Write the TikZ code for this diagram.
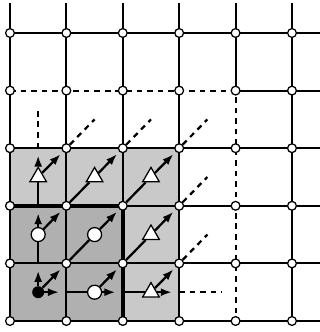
\documentclass[tikz,border=0pt]{standalone}
\usetikzlibrary{shapes.geometric,arrows.meta}
\begin{document}
\begin{tikzpicture}[x=1.41cm,y=1.44cm,>={Latex[length=2.8mm,width=2mm]}]
    \tikzset{
      gridline/.style={line width=1.4pt},
      dashline/.style={line width=1.4pt, dash pattern=on 4pt off 3.5pt},
      knot/.style={circle, draw, fill=white, line width=0.9pt, inner sep=0pt, minimum size=2.2mm},
      cell/.style={circle, draw, fill=white, line width=0.9pt, inner sep=0pt, minimum size=3.5mm},
      root/.style={circle, fill=black, inner sep=0pt, minimum size=3mm},
      tri/.style={regular polygon, regular polygon sides=3, draw, fill=white, line width=0.9pt, inner sep=0pt, minimum size=4.8mm},
      flowout/.style={line width=1.6pt, ->, shorten >=#1},
      flowout/.default=0.8mm,
      link/.style={line width=1.6pt},
      trail/.style={line width=1.6pt, dash pattern=on 4pt off 3.5pt}
    }
    \useasboundingbox (-0.177,-0.191) rectangle (5.496,5.573);
    % shaded block
    \fill[gray!42] (0,0) rectangle (3,3);
    \fill[gray!62] (0,0) rectangle (2,2);
    % lattice
    \foreach \k in {0,1,2,3,5} {
      \draw[gridline] (0,\k) -- (5.5,\k);
      \draw[gridline] (\k,0) -- (\k,5.52);
    }
    \draw[dashline] (0,4) -- (4,4) -- (4,0);
    \draw[gridline] (4,4) -- (5.5,4);
    \draw[gridline] (4,4) -- (4,5.52);
    \draw[line width=2.8pt] (0,2) -- (2,2) -- (2,0);
    \foreach \c in {0,...,5}
      \foreach \r in {0,...,5}
        \node[knot] (g-\c-\r) at (\c,\r) {};
    % cell centres
    \node[root] (c00) at (0.5,0.5) {};
    \node[cell] (c01) at (0.5,1.5) {};
    \node[cell] (c10) at (1.5,0.5) {};
    \node[cell] (c11) at (1.5,1.5) {};
    \node[tri] (c02) at (0.5,2.5) {};
    \node[tri] (c12) at (1.5,2.5) {};
    \node[tri] (c22) at (2.5,2.5) {};
    \node[tri] (c21) at (2.5,1.5) {};
    \node[tri] (c20) at (2.5,0.5) {};
    % crossings and loose ends
    \coordinate (v1) at (0.5,1);
    \coordinate (v2) at (0.5,2);
    \coordinate (v3) at (0.5,3);
    \coordinate (h1) at (1,0.5);
    \coordinate (h2) at (2,0.5);
    \coordinate (h3) at (3,0.5);
    \coordinate (e-up) at (0.5,3.73);
    \coordinate (e-rt) at (3.75,0.5);
    \coordinate (e-13) at (1.5,3.5);
    \coordinate (e-23) at (2.5,3.5);
    \coordinate (e-33) at (3.5,3.5);
    \coordinate (e-32) at (3.5,2.5);
    \coordinate (e-31) at (3.5,1.5);
    % upwards
    \draw[flowout=1.8mm] (c00) -- (v1);
    \draw[link] (v1) -- (c01);
    \draw[flowout=1.8mm] (c01) -- (v2);
    \draw[link] (v2) -- (c02);
    \draw[flowout=1.8mm] (c02) -- (v3);
    \draw[trail] (v3) -- (e-up);
    % rightwards
    \draw[flowout=1.8mm] (c00) -- (h1);
    \draw[link] (h1) -- (c10);
    \draw[flowout=1.8mm] (c10) -- (h2);
    \draw[link] (h2) -- (c20);
    \draw[flowout=1.8mm] (c20) -- (h3);
    \draw[trail] (h3) -- (e-rt);
    % diagonals
    \draw[flowout] (c00) -- (g-1-1);
    \draw[link] (g-1-1) -- (c11);
    \draw[flowout] (c11) -- (g-2-2);
    \draw[link] (g-2-2) -- (c22);
    \draw[flowout] (c01) -- (g-1-2);
    \draw[link] (g-1-2) -- (c12);
    \draw[flowout] (c10) -- (g-2-1);
    \draw[link] (g-2-1) -- (c21);
    \draw[flowout] (c02) -- (g-1-3);
    \draw[trail] (g-1-3) -- (e-13);
    \draw[flowout] (c12) -- (g-2-3);
    \draw[trail] (g-2-3) -- (e-23);
    \draw[flowout] (c22) -- (g-3-3);
    \draw[trail] (g-3-3) -- (e-33);
    \draw[flowout] (c21) -- (g-3-2);
    \draw[trail] (g-3-2) -- (e-32);
    \draw[flowout] (c20) -- (g-3-1);
    \draw[trail] (g-3-1) -- (e-31);
\end{tikzpicture}
\end{document}
